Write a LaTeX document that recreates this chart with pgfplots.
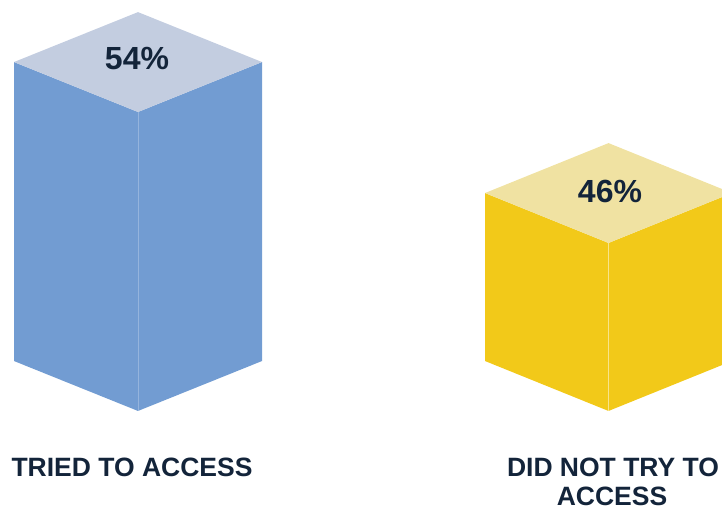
\documentclass[border=0pt]{standalone}
\usepackage{pgfplots}
\pgfplotsset{compat=1.18}
\usepackage{fontspec}
\setmainfont{Liberation Sans}

\definecolor{blueface}{HTML}{729CD2}
\definecolor{bluetop}{HTML}{C3CDE0}
\definecolor{yellowface}{HTML}{F2C919}
\definecolor{yellowtop}{HTML}{F0E2A2}
\definecolor{txt}{HTML}{13243A}

\begin{document}
\begin{tikzpicture}
\begin{axis}[
    width=722pt, height=511pt,
    scale only axis,
    xmin=0, xmax=722,
    ymin=29.63, ymax=60.84,
    hide axis,
]
% TRIED TO ACCESS: 54
\addplot[draw=none, fill=blueface] coordinates {(14,38.79) (138,35.74) (138,54) (14,57.05)} -- cycle;
\addplot[draw=none, fill=blueface] coordinates {(138,35.74) (262,38.79) (262,57.05) (138,54)} -- cycle;
\addplot[draw=none, fill=bluetop] coordinates {(138,54) (14,57.05) (138,60.10) (262,57.05)} -- cycle;
\addplot[white, opacity=0.25, line width=0.6pt] coordinates {(138,35.74) (138,54)};

% DID NOT TRY TO ACCESS: 46
\addplot[draw=none, fill=yellowface] coordinates {(485,38.79) (608.5,35.74) (608.5,46) (485,49.05)} -- cycle;
\addplot[draw=none, fill=yellowface] coordinates {(608.5,35.74) (732,38.79) (732,49.05) (608.5,46)} -- cycle;
\addplot[draw=none, fill=yellowtop] coordinates {(608.5,46) (485,49.05) (608.5,52.10) (732,49.05)} -- cycle;
\addplot[white, opacity=0.35, line width=0.6pt] coordinates {(608.5,35.74) (608.5,46)};

\node[anchor=base, text=txt, font=\fontsize{32}{36}\selectfont\bfseries] at (axis cs:137,56.57) {54\%};
\node[anchor=base, text=txt, font=\fontsize{32}{36}\selectfont\bfseries] at (axis cs:610,48.50) {46\%};

\node[anchor=base, inner sep=0pt, text=txt, font=\fontsize{26.5}{30}\selectfont\bfseries] at (axis cs:132,31.74) {TRIED TO ACCESS};
\node[anchor=base, inner sep=0pt, text=txt, font=\fontsize{26.5}{30}\selectfont\bfseries] at (axis cs:613,31.74) {DID NOT TRY TO};
\node[anchor=base, inner sep=0pt, text=txt, font=\fontsize{26.5}{30}\selectfont\bfseries] at (axis cs:612,29.98) {ACCESS};
\end{axis}
\pgfresetboundingbox
\path (current axis.south west) rectangle (current axis.north east);
\end{tikzpicture}
\end{document}
